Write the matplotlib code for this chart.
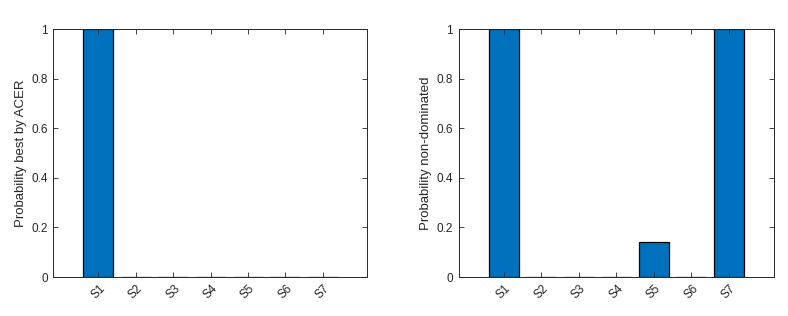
import numpy as np
import matplotlib
matplotlib.use('Agg')
import matplotlib.pyplot as plt

labels = ['S1', 'S2', 'S3', 'S4', 'S5', 'S6', 'S7']
p_best = [1, 0, 0, 0, 0, 0, 0]
p_nondom = [1, 0, 0, 0, 0.14, 0, 1]

bar_color = '#0072BD'
axis_color = '#262626'

plt.rcParams['font.family'] = 'Liberation Sans'
plt.rcParams['font.size'] = 8.5

fig = plt.figure(figsize=(7.88, 3.16), dpi=100)
ax1 = fig.add_axes([53.5/788, 1 - 277/316, 314/788, 248/316])
ax2 = fig.add_axes([458.5/788, 1 - 277/316, 315/788, 248/316])


def draw(ax, values, ylabel):
    x = np.arange(1, len(labels) + 1)
    ax.bar(x, values, 0.8, color=bar_color, edgecolor='black', linewidth=0.9)
    ax.set_xlim(-0.2, 8.2)
    ax.set_ylim(0, 1)
    ax.set_xticks(x)
    ax.set_xticklabels(labels, rotation=45, ha='center')
    ax.set_yticks([0, 0.2, 0.4, 0.6, 0.8, 1])
    ax.set_yticklabels(['0', '0.2', '0.4', '0.6', '0.8', '1'])
    ax.set_ylabel(ylabel, color=axis_color, fontsize=9.5, labelpad=3)
    ax.tick_params(direction='in', top=True, right=True, length=3.5,
                   width=0.6, colors=axis_color, pad=4)
    for s in ax.spines.values():
        s.set_color(axis_color)
        s.set_linewidth(0.7)


draw(ax1, p_best, 'Probability best by ACER')
draw(ax2, p_nondom, 'Probability non-dominated')

fig.savefig('out.png', dpi=100)
